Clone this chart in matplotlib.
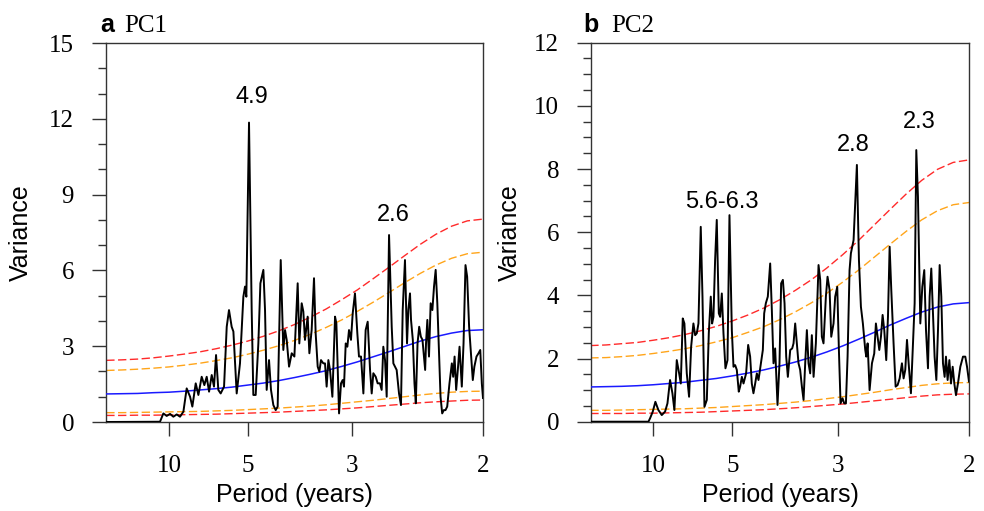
import matplotlib
matplotlib.use('Agg')
import matplotlib.pyplot as plt
import numpy as np
from matplotlib.ticker import MultipleLocator

plt.rcParams['font.family'] = ['Liberation Sans', 'DejaVu Sans']

# ===== frequency grid of the red-noise background (cycles / year) =====
bg_freq = [0.02, 0.04, 0.06, 0.08, 0.10, 0.12, 0.14, 0.16, 0.18, 0.20, 0.22, 0.24, 0.26,
           0.28, 0.30, 0.32, 0.34, 0.36, 0.38, 0.40, 0.42, 0.44, 0.46, 0.48, 0.50]

# ===== PC1 =====
pc1_freq = [0.0197, 0.0885, 0.0928, 0.0970, 0.1013, 0.1055, 0.1098, 0.1140, 0.1183, 0.1225,
            0.1268, 0.1297, 0.1340, 0.1374, 0.1416, 0.1450, 0.1480, 0.1510, 0.1544, 0.1573,
            0.1599, 0.1628, 0.1658, 0.1701, 0.1735, 0.1764, 0.1798, 0.1820, 0.1862, 0.1904,
            0.1947, 0.1968, 0.1985, 0.2019, 0.2040, 0.2053, 0.2074, 0.2104, 0.2138, 0.2164,
            0.2202, 0.2223, 0.2244, 0.2274, 0.2299, 0.2329, 0.2359, 0.2384, 0.2423, 0.2456,
            0.2478, 0.2499, 0.2529, 0.2563, 0.2597, 0.2639, 0.2660, 0.2690, 0.2711, 0.2732,
            0.2766, 0.2788, 0.2817, 0.2847, 0.2868, 0.2894, 0.2915, 0.2936, 0.2966, 0.2987,
            0.3008, 0.3030, 0.3051, 0.3081, 0.3115, 0.3132, 0.3166, 0.3191, 0.3212, 0.3229,
            0.3251, 0.3272, 0.3293, 0.3318, 0.3340, 0.3369, 0.3399, 0.3420, 0.3446, 0.3476,
            0.3505, 0.3531, 0.3561, 0.3582, 0.3603, 0.3633, 0.3658, 0.3687, 0.3709, 0.3730,
            0.3752, 0.3773, 0.3803, 0.3837, 0.3858, 0.3879, 0.3900, 0.3930, 0.3955, 0.3977,
            0.4006, 0.4032, 0.4049, 0.4070, 0.4083, 0.4106, 0.4127, 0.4144, 0.4166, 0.4187,
            0.4208, 0.4229, 0.4263, 0.4274, 0.4291, 0.4312, 0.4333, 0.4355, 0.4376, 0.4397,
            0.4418, 0.4440, 0.4459, 0.4480, 0.4501, 0.4522, 0.4544, 0.4573, 0.4603, 0.4620,
            0.4638, 0.4658, 0.4679, 0.4701, 0.4730, 0.4752, 0.4777, 0.4798, 0.4823, 0.4849,
            0.4870, 0.4890, 0.4917, 0.4943, 0.4965, 0.4985, 0.5000]
pc1_var = [0.00, 0.01, 0.34, 0.24, 0.32, 0.21, 0.30, 0.21, 0.41, 1.33,
           1.00, 0.61, 1.53, 1.07, 1.79, 1.46, 1.79, 1.20, 1.86, 1.40,
           2.65, 1.27, 1.13, 1.40, 3.77, 4.43, 3.77, 3.58, 1.13, 2.32,
           4.96, 5.36, 4.96, 11.85, 7.07, 4.43, 1.07, 1.07, 3.11, 5.49,
           6.02, 4.43, 1.27, 2.45, 1.27, 0.67, 0.47, 0.61, 6.41, 2.85,
           3.64, 3.25, 2.19, 2.72, 2.59, 5.49, 3.11, 4.70, 4.37, 3.25,
           4.17, 2.72, 3.64, 5.69, 3.51, 2.19, 1.99, 2.45, 2.32, 2.32,
           1.40, 2.45, 2.06, 1.00, 4.17, 3.90, 0.34, 1.53, 1.66, 1.40,
           3.11, 2.98, 3.64, 3.25, 4.30, 5.09, 3.51, 2.59, 2.59, 1.13,
           3.64, 3.97, 2.06, 1.13, 1.93, 1.79, 1.53, 1.53, 1.27, 2.98,
           2.45, 1.00, 7.40, 3.77, 2.32, 2.19, 2.06, 1.13, 0.67, 4.43,
           6.41, 3.11, 4.43, 5.09, 4.04, 3.25, 1.53, 0.74, 3.11, 3.77,
           3.38, 3.25, 2.06, 3.11, 4.04, 2.59, 4.70, 4.43, 5.36, 6.02,
           4.70, 2.72, 1.00, 0.34, 0.47, 0.47, 0.61, 1.53, 2.32, 1.79,
           2.59, 1.27, 2.06, 2.98, 1.40, 3.11, 6.21, 5.75, 3.77, 2.59,
           1.66, 2.19, 2.59, 2.72, 2.85, 1.53, 0.95]
pc1_mean = [1.11, 1.12, 1.13, 1.16, 1.18, 1.22, 1.27, 1.32, 1.38, 1.46, 1.54, 1.64, 1.76,
            1.89, 2.03, 2.20, 2.38, 2.58, 2.78, 2.99, 3.20, 3.38, 3.52, 3.62, 3.65]
pc1_up99 = [2.44, 2.46, 2.49, 2.54, 2.61, 2.69, 2.78, 2.90, 3.04, 3.20, 3.39, 3.61, 3.86,
            4.15, 4.47, 4.84, 5.23, 5.67, 6.12, 6.58, 7.03, 7.43, 7.75, 7.96, 8.03]
pc1_up95 = [2.04, 2.06, 2.09, 2.13, 2.18, 2.25, 2.33, 2.43, 2.54, 2.68, 2.84, 3.02, 3.23,
            3.47, 3.74, 4.04, 4.38, 4.74, 5.12, 5.51, 5.88, 6.21, 6.48, 6.66, 6.72]
pc1_lo95 = [0.37, 0.37, 0.38, 0.39, 0.40, 0.41, 0.42, 0.44, 0.46, 0.49, 0.52, 0.55, 0.59,
            0.63, 0.68, 0.74, 0.80, 0.86, 0.93, 1.00, 1.07, 1.13, 1.18, 1.21, 1.22]
pc1_lo99 = [0.26, 0.26, 0.27, 0.27, 0.28, 0.29, 0.30, 0.31, 0.33, 0.35, 0.37, 0.39, 0.42,
            0.45, 0.48, 0.52, 0.56, 0.61, 0.66, 0.71, 0.76, 0.80, 0.83, 0.86, 0.87]

# ===== PC2 =====
pc2_freq = [0.0209, 0.0937, 0.0958, 0.0992, 0.1025, 0.1063, 0.1106, 0.1148, 0.1178, 0.1211,
            0.1241, 0.1266, 0.1296, 0.1326, 0.1347, 0.1372, 0.1393, 0.1423, 0.1452, 0.1478,
            0.1507, 0.1529, 0.1550, 0.1571, 0.1600, 0.1622, 0.1647, 0.1677, 0.1702, 0.1727,
            0.1744, 0.1761, 0.1782, 0.1803, 0.1829, 0.1846, 0.1867, 0.1888, 0.1913, 0.1939,
            0.1964, 0.1994, 0.2015, 0.2036, 0.2057, 0.2082, 0.2099, 0.2121, 0.2142, 0.2175,
            0.2201, 0.2226, 0.2247, 0.2268, 0.2290, 0.2311, 0.2332, 0.2362, 0.2387, 0.2404,
            0.2425, 0.2450, 0.2480, 0.2501, 0.2522, 0.2543, 0.2573, 0.2598, 0.2619, 0.2641,
            0.2662, 0.2683, 0.2704, 0.2734, 0.2759, 0.2776, 0.2797, 0.2818, 0.2839, 0.2860,
            0.2882, 0.2903, 0.2924, 0.2945, 0.2966, 0.2987, 0.3008, 0.3030, 0.3059, 0.3093,
            0.3114, 0.3135, 0.3156, 0.3186, 0.3207, 0.3233, 0.3254, 0.3283, 0.3304, 0.3330,
            0.3351, 0.3372, 0.3397, 0.3419, 0.3440, 0.3461, 0.3486, 0.3503, 0.3537, 0.3579,
            0.3605, 0.3630, 0.3655, 0.3685, 0.3698, 0.3715, 0.3740, 0.3770, 0.3799, 0.3820,
            0.3841, 0.3863, 0.3884, 0.3905, 0.3926, 0.3951, 0.3973, 0.3994, 0.4015, 0.4044,
            0.4070, 0.4095, 0.4121, 0.4150, 0.4171, 0.4192, 0.4214, 0.4235, 0.4264, 0.4290,
            0.4311, 0.4332, 0.4353, 0.4383, 0.4408, 0.4433, 0.4455, 0.4480, 0.4501, 0.4522,
            0.4543, 0.4564, 0.4586, 0.4607, 0.4628, 0.4649, 0.4670, 0.4691, 0.4708, 0.4729,
            0.4751, 0.4772, 0.4793, 0.4814, 0.4835, 0.4860, 0.4890, 0.4924, 0.4953, 0.4975,
            0.5000]
pc2_var = [0.00, 0.00, 0.11, 0.32, 0.63, 0.37, 0.21, 0.32, 0.58, 1.32,
           0.90, 0.37, 1.95, 1.53, 1.21, 3.27, 3.11, 1.53, 0.79, 2.37,
           3.11, 2.74, 2.80, 3.11, 6.17, 3.96, 0.47, 0.69, 2.80, 3.96,
           3.11, 3.32, 5.12, 6.39, 3.43, 3.32, 4.06, 2.80, 1.69, 1.95,
           6.54, 2.90, 1.74, 1.79, 1.64, 0.95, 1.11, 1.42, 1.21, 1.53,
           2.43, 2.06, 1.21, 0.90, 1.21, 1.53, 1.32, 1.85, 2.27, 3.43,
           3.75, 3.96, 5.01, 3.54, 1.85, 2.32, 0.53, 1.85, 4.38, 4.49,
           3.75, 2.06, 1.42, 2.27, 2.32, 2.48, 3.11, 2.48, 1.85, 1.64,
           1.11, 0.69, 1.85, 2.90, 1.85, 1.53, 2.74, 1.42, 2.48, 4.96,
           4.49, 2.69, 2.48, 3.96, 4.59, 4.17, 2.69, 3.11, 3.96, 4.27,
           2.27, 0.58, 0.74, 0.58, 0.58, 2.06, 4.80, 5.33, 5.75, 8.13,
           5.12, 3.64, 3.11, 2.27, 2.06, 2.48, 1.00, 1.85, 2.16, 3.11,
           2.69, 2.27, 2.69, 3.38, 2.90, 1.95, 3.32, 5.54, 4.17, 2.48,
           1.11, 1.16, 1.37, 1.85, 1.37, 1.64, 2.59, 1.85, 0.90, 2.48,
           3.75, 8.60, 7.12, 3.11, 4.27, 4.80, 2.90, 1.69, 3.96, 4.85,
           3.43, 2.06, 1.32, 2.90, 4.96, 3.96, 1.85, 1.42, 2.06, 1.32,
           1.95, 1.21, 1.74, 1.21, 0.84, 1.21, 1.74, 2.06, 2.06, 1.74,
           1.27]
pc2_mean = [1.10, 1.11, 1.12, 1.14, 1.17, 1.21, 1.25, 1.31, 1.37, 1.45, 1.54, 1.64, 1.76,
            1.89, 2.04, 2.21, 2.40, 2.61, 2.83, 3.06, 3.27, 3.47, 3.63, 3.73, 3.77]
pc2_up99 = [2.41, 2.43, 2.47, 2.51, 2.58, 2.66, 2.76, 2.88, 3.02, 3.19, 3.38, 3.60, 3.86,
            4.16, 4.49, 4.87, 5.29, 5.74, 6.23, 6.72, 7.20, 7.64, 7.99, 8.21, 8.29]
pc2_up95 = [2.02, 2.03, 2.06, 2.10, 2.16, 2.23, 2.31, 2.41, 2.53, 2.66, 2.83, 3.01, 3.23,
            3.48, 3.76, 4.07, 4.42, 4.80, 5.21, 5.62, 6.02, 6.39, 6.68, 6.87, 6.94]
pc2_lo95 = [0.36, 0.36, 0.37, 0.38, 0.39, 0.40, 0.41, 0.43, 0.45, 0.48, 0.51, 0.54, 0.58,
            0.62, 0.67, 0.73, 0.79, 0.86, 0.93, 1.01, 1.08, 1.15, 1.20, 1.23, 1.24]
pc2_lo99 = [0.26, 0.26, 0.26, 0.27, 0.27, 0.28, 0.29, 0.30, 0.32, 0.34, 0.36, 0.38, 0.41,
            0.44, 0.48, 0.52, 0.56, 0.61, 0.66, 0.71, 0.76, 0.81, 0.85, 0.87, 0.88]

# ===== axis ticks =====
period_ticks = [10, 5, 3, 2]
period_labels = ['10', '5', '3', '2']

SERIF = ['Liberation Serif', 'DejaVu Serif']
SANS = ['Liberation Sans', 'DejaVu Sans']
RED = '#ff2a2a'
ORANGE = '#ffa51a'
BLUE = '#1a1aff'
DASH = (0, (6, 2.5))


def draw_panel(ax, freq, var, mean, up99, up95, lo95, lo99, ymax, ymajor, yminor):
    ax.plot(bg_freq, up99, color=RED, lw=1.0, ls=DASH, zorder=2)
    ax.plot(bg_freq, up95, color=ORANGE, lw=1.0, ls=DASH, zorder=2)
    ax.plot(bg_freq, lo95, color=ORANGE, lw=1.0, ls=DASH, zorder=2)
    ax.plot(bg_freq, lo99, color=RED, lw=1.0, ls=DASH, zorder=2)
    ax.plot(bg_freq, mean, color=BLUE, lw=1.1, zorder=3)
    ax.plot(freq, var, color='black', lw=1.4, zorder=4)

    ax.set_xlim(freq[0], 0.5)
    ax.set_ylim(0, ymax)
    ax.set_xticks([1.0 / p for p in period_ticks])
    ax.set_xticklabels(period_labels)
    ax.yaxis.set_major_locator(MultipleLocator(ymajor))
    ax.yaxis.set_minor_locator(MultipleLocator(yminor))
    ax.tick_params(axis='both', which='major', direction='out', length=10, width=1.0,
                   color='#333333', labelsize=18)
    ax.tick_params(axis='x', pad=14)
    ax.tick_params(axis='y', pad=13)
    ax.tick_params(axis='y', which='minor', direction='out', length=6, width=1.0,
                   color='#333333')
    for lab in ax.get_xticklabels() + ax.get_yticklabels():
        lab.set_fontfamily(SERIF)
    for sp in ax.spines.values():
        sp.set_color('#333333')
        sp.set_linewidth(1.0)
    ax.set_xlabel('Period (years)', fontsize=18, family=SANS, va='top')
    ax.set_ylabel('Variance', fontsize=18, family=SANS)
    ax.xaxis.set_label_coords(0.5, -0.162)


fig = plt.figure(figsize=(9.84, 5.11), dpi=100)
ax1 = fig.add_axes([106 / 984, 89 / 511, 377 / 984, 379 / 511])
ax2 = fig.add_axes([591 / 984, 89.3 / 511, 378 / 984, 379 / 511])

draw_panel(ax1, pc1_freq, pc1_var, pc1_mean, pc1_up99, pc1_up95, pc1_lo95, pc1_lo99,
           15, 3, 1)
draw_panel(ax2, pc2_freq, pc2_var, pc2_mean, pc2_up99, pc2_up95, pc2_lo95, pc2_lo99,
           12, 2, 0.5)
ax1.yaxis.set_label_coords(-0.194, 0.5)
ax2.yaxis.set_label_coords(-0.183, 0.5)

# ===== peak labels =====
ax1.text(0.2057, 12.86, '4.9', fontsize=17, ha='center', va='center', family=SANS)
ax1.text(0.3854, 8.19, '2.6', fontsize=17, ha='center', va='center', family=SANS)
ax2.text(0.1862, 6.97, '5.6-6.3', fontsize=17, ha='center', va='center', family=SANS)
ax2.text(0.3537, 8.76, '2.8', fontsize=17, ha='center', va='center', family=SANS)
ax2.text(0.4370, 9.48, '2.3', fontsize=17, ha='center', va='center', family=SANS)

# ===== panel titles =====
fig.text(100 / 984, 1 - 32 / 511, 'a', fontsize=18, fontweight='bold', family=SANS,
         ha='left', va='baseline')
fig.text(124 / 984, 1 - 32 / 511, 'PC1', fontsize=18, family=SERIF,
         ha='left', va='baseline')
fig.text(583 / 984, 1 - 32 / 511, 'b', fontsize=18, fontweight='bold', family=SANS,
         ha='left', va='baseline')
fig.text(611.5 / 984, 1 - 32 / 511, 'PC2', fontsize=18, family=SERIF,
         ha='left', va='baseline')

fig.savefig('out.png', dpi=100)
plt.close(fig)
